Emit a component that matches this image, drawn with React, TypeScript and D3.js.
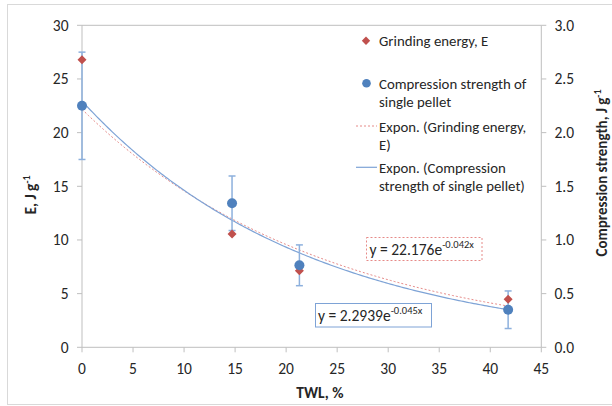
import React from "react";
import * as d3 from "d3";

const twl = [0, 14.7, 21.3, 41.75];
const grindingEnergy = [26.8, 10.55, 7.14, 4.47];
const compressionStrength = [2.25, 1.342, 0.764, 0.35];
const compressionErr = [0.5, 0.254, 0.19, 0.175];
const xTicks = [0, 5, 10, 15, 20, 25, 30, 35, 40, 45];
const leftTicks = [0, 5, 10, 15, 20, 25, 30];
const rightTicks = [0, 0.5, 1, 1.5, 2, 2.5, 3];
const grindFit = { a: 22.176, b: -0.042, label: "y = 22.176e", exp: "-0.042x" };
const compFit = { a: 2.2939, b: -0.045, label: "y = 2.2939e", exp: "-0.045x" };

const W = 612, H = 406;
const font = "Calibri, Carlito, 'Liberation Sans', Arial, sans-serif";
const RED = "#c0504d";
const BLUE = "#4f81bd";

export default function App() {
  const x = d3.scaleLinear().domain([0, 45]).range([82, 541.3]);
  const yL = d3.scaleLinear().domain([0, 30]).range([347.3, 25.3]);
  const yR = d3.scaleLinear().domain([0, 3]).range([347.3, 25.3]);

  const xs = d3.range(0, 200).map((i) => (twl[twl.length - 1] * i) / 199);
  const redLine = d3.line<number>().x((v) => x(v)).y((v) => yL(grindFit.a * Math.exp(grindFit.b * v)))(xs) || "";
  const blueLine = d3.line<number>().x((v) => x(v)).y((v) => yR(compFit.a * Math.exp(compFit.b * v)))(xs) || "";

  const axisColor = "#bfbfbf";
  const textColor = "#262626";
  const tickFs = 15.5;

  return (
    <svg width={W} height={H} style={{ position: "absolute", left: 0, top: 0 }} fontFamily={font}>
      <rect x={0} y={0} width={W} height={H} fill="#fff" />
      <rect x={7.5} y={4.5} width={620} height={400} fill="none" stroke="#d9d9d9" />
      <line x1={x(0)} x2={x(45)} y1={yL(30)} y2={yL(30)} stroke={axisColor} />
      <line x1={x(0)} x2={x(45)} y1={yL(0)} y2={yL(0)} stroke={axisColor} />
      <line x1={x(0)} x2={x(0)} y1={yL(0)} y2={yL(30)} stroke={axisColor} />
      <line x1={x(45)} x2={x(45)} y1={yL(0)} y2={yL(30)} stroke={axisColor} />
      {xTicks.map((t) => (
        <g key={"x" + t}>
          <line x1={x(t)} x2={x(t)} y1={yL(0)} y2={yL(0) + 5} stroke={axisColor} />
          <text x={x(t)} y={yL(0) + 27} textAnchor="middle" fontSize={tickFs} fill={textColor}>{t}</text>
        </g>
      ))}
      {leftTicks.map((t) => (
        <g key={"l" + t}>
          <line x1={x(0) - 5} x2={x(0)} y1={yL(t)} y2={yL(t)} stroke={axisColor} />
          <text x={68.5} y={yL(t) + 5.5} textAnchor="end" fontSize={tickFs} fill={textColor}>{t}</text>
        </g>
      ))}
      {rightTicks.map((t) => (
        <g key={"r" + t}>
          <line x1={x(45)} x2={x(45) + 5} y1={yR(t)} y2={yR(t)} stroke={axisColor} />
          <text x={554.5} y={yR(t) + 5.5} textAnchor="start" fontSize={tickFs} fill={textColor}>{t.toFixed(1)}</text>
        </g>
      ))}
      <text x={320} y={398} textAnchor="middle" fontSize={15.5} fontWeight="bold" fill={textColor}>TWL, %</text>
      <text transform="translate(36,195) rotate(-90)" textAnchor="middle" fontSize={15.5} fontWeight="bold" fill={textColor}>
        E,  J g<tspan dy={-6} fontSize={10}>-1</tspan>
      </text>
      <text transform="translate(606.5,173) rotate(-90)" textAnchor="middle" fontSize={15} fontWeight="bold" fill={textColor}>
        Compression strength, J g<tspan dy={-6} fontSize={10}>-1</tspan>
      </text>

      <path d={redLine} fill="none" stroke="#e68a88" strokeWidth={1} strokeDasharray="2,2" />
      <path d={blueLine} fill="none" stroke="#7ea3d6" strokeWidth={1.2} />

      {twl.map((t, i) => {
        const top = yR(compressionStrength[i] + compressionErr[i]);
        const bot = yR(compressionStrength[i] - compressionErr[i]);
        return (
          <g key={"e" + i} stroke="#8db0dd" strokeWidth={1.5}>
            <line x1={x(t)} x2={x(t)} y1={top} y2={bot} />
            <line x1={x(t) - 3.5} x2={x(t) + 3.5} y1={top} y2={top} />
            <line x1={x(t) - 3.5} x2={x(t) + 3.5} y1={bot} y2={bot} />
          </g>
        );
      })}

      {twl.map((t, i) => {
        const cx = x(t), cy = yL(grindingEnergy[i]);
        return <path key={"d" + i} d={`M${cx},${cy - 4.5}L${cx + 4.5},${cy}L${cx},${cy + 4.5}L${cx - 4.5},${cy}Z`} fill={RED} />;
      })}
      {twl.map((t, i) => (
        <circle key={"c" + i} cx={x(t)} cy={yR(compressionStrength[i])} r={5} fill={BLUE} />
      ))}

      <g fontSize={14.8} fill={textColor}>
        <path d="M366,36.5L370.2,40.7L366,44.9L361.8,40.7Z" fill={RED} />
        <text x={379} y={46}>Grinding energy, E</text>
        <circle cx={366.5} cy={83.3} r={4.3} fill={BLUE} />
        <text x={379} y={88.5}>Compression strength of</text>
        <text x={379} y={106.5}>single pellet</text>
        <line x1={356} x2={377} y1={126} y2={126} stroke="#e68a88" strokeDasharray="2,2" />
        <text x={379} y={131.5}>Expon. (Grinding energy,</text>
        <text x={379} y={149.5}>E)</text>
        <line x1={356} x2={377} y1={167.3} y2={167.3} stroke="#7ea3d6" strokeWidth={1.2} />
        <text x={379} y={172.5}>Expon. (Compression</text>
        <text x={379} y={190.5}>strength of single pellet)</text>
      </g>

      <rect x={366.5} y={237.5} width={115.5} height={23} fill="#fff" stroke="#e68a88" strokeDasharray="2,2" />
      <text x={369.5} y={254.5} fontSize={15.5} fill={textColor}>
        {grindFit.label}<tspan dy={-6.5} fontSize={10.5}>{grindFit.exp}</tspan>
      </text>
      <rect x={315.5} y={303.5} width={116} height={23.5} fill="#fff" stroke="#7ea3d6" />
      <text x={318} y={320.5} fontSize={15.5} fill={textColor}>
        {compFit.label}<tspan dy={-6.5} fontSize={10.5}>{compFit.exp}</tspan>
      </text>
    </svg>
  );
}
